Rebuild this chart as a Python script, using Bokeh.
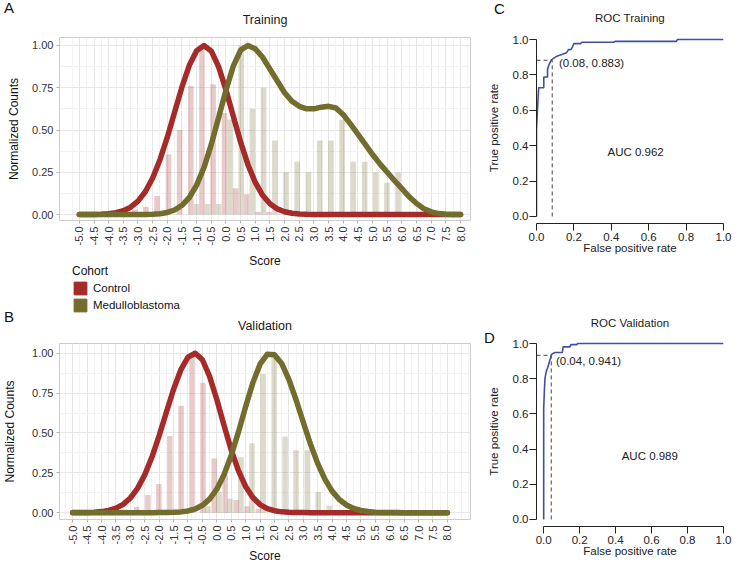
import math
from bokeh.plotting import figure
from bokeh.models import Range1d, FixedTicker, Legend, LegendItem, Div
from bokeh.layouts import row, column
from bokeh.embed import file_html
from bokeh.resources import INLINE
from bokeh.core.properties import value

FONT = "Liberation Sans"
RED = "#A52A2A"
OLIVE = "#726C2D"
BLUE = "#3F4FA6"
NAN = float("nan")

# ---------------- data ----------------
COHORTS = ["Control", "Medulloblastoma"]
PANEL_TAGS = ["A", "B", "C", "D"]
SCORE_TICKS = [-5.0, -4.5, -4.0, -3.5, -3.0, -2.5, -2.0, -1.5, -1.0, -0.5, 0.0, 0.5, 1.0, 1.5,
               2.0, 2.5, 3.0, 3.5, 4.0, 4.5, 5.0, 5.5, 6.0, 6.5, 7.0, 7.5, 8.0]
SCORE_TICK_LABELS = ["-5.0", "-4.5", "-4.0", "-3.5", "-3.0", "-2.5", "-2.0", "-1.5", "-1.0", "-0.5",
                     "0.0", "0.5", "1.0", "1.5", "2.0", "2.5", "3.0", "3.5", "4.0", "4.5", "5.0",
                     "5.5", "6.0", "6.5", "7.0", "7.5", "8.0"]
COUNT_TICKS = [0.0, 0.25, 0.5, 0.75, 1.0]
COUNT_TICK_LABELS = ["0.00", "0.25", "0.50", "0.75", "1.00"]

# histogram bars (dodged), normalized counts
TRAIN_CTRL_BAR_X = [-3.11, -2.73, -2.35, -1.96, -1.58, -1.20, -0.82, -0.44, -0.05, 0.33, 0.71, 1.09, 1.47]
TRAIN_CTRL_BAR_H = [0.03, 0.045, 0.11, 0.355, 0.50, 0.76, 1.00, 0.77, 0.60, 0.155, 0.12, 0.015, 0.015]
TRAIN_MB_BAR_X = [-1.01, -0.63, -0.25, 0.14, 0.52, 0.90, 1.28, 1.67, 2.05, 2.43, 2.81, 3.20, 3.58,
                  3.96, 4.34, 4.73, 5.11, 5.49, 5.87]
TRAIN_MB_BAR_H = [0.0625, 0.0625, 0.0625, 0.5625, 1.0, 0.625, 0.75, 0.4375, 0.25, 0.3125, 0.25, 0.4375,
                  0.4375, 0.5625, 0.3125, 0.3125, 0.25, 0.1875, 0.25]
VAL_CTRL_BAR_X = [-3.16, -2.78, -2.39, -2.01, -1.63, -1.24, -0.86, -0.48, -0.09, 0.29, 0.67, 1.05, 1.44]
VAL_CTRL_BAR_H = [0.02, 0.035, 0.11, 0.18, 0.48, 0.67, 1.0, 0.815, 0.34, 0.235, 0.08, 0.04, 0.025]
VAL_MB_BAR_X = [-0.31, 0.08, 0.46, 0.84, 1.22, 1.61, 1.99, 2.37, 2.75, 3.14, 3.52, 3.90]
VAL_MB_BAR_H = [0.04, 0.13, 0.087, 0.348, 0.435, 0.87, 1.0, 0.478, 0.391, 0.391, 0.13, 0.043]

# fitted density curves (normalized), sampled along the score axis
CURVE_X = [-5.0, -4.75, -4.5, -4.25, -4.0, -3.75, -3.5, -3.25, -3.0, -2.75, -2.5, -2.25, -2.0, -1.75,
           -1.5, -1.25, -1.0, -0.75, -0.5, -0.25, 0.0, 0.25, 0.5, 0.75, 1.0, 1.25, 1.5, 1.75, 2.0,
           2.25, 2.5, 2.75, 3.0, 3.25, 3.5, 3.75, 4.0, 4.25, 4.5, 4.75, 5.0, 5.25, 5.5, 5.75, 6.0,
           6.25, 6.5, 6.75, 7.0, 7.25, 7.5, 7.75, 8.0]
TRAIN_CTRL_CURVE = [0.0001, 0.0003, 0.0009, 0.0022, 0.0051, 0.0111, 0.0228, 0.0439, 0.0796, 0.1353,
                    0.2163, 0.3247, 0.4578, 0.6065, 0.7548, 0.8825, 0.9692, 1.0, 0.9667, 0.873, 0.737,
                    0.581, 0.428, 0.295, 0.190, 0.114, 0.064, 0.0337, 0.0165, 0.0076, 0.0033, 0.0013,
                    0.0005, 0.0002, 0, 0, 0, 0, 0, 0, 0, 0, 0, 0, 0, 0, 0, 0, 0, 0, 0, 0, 0]
TRAIN_MB_CURVE = [0, 0, 0, 0, 0, 0, 0, 0, 0, 0.001, 0.0022, 0.0054, 0.0126, 0.027, 0.055, 0.101, 0.174,
                  0.278, 0.415, 0.574, 0.736, 0.878, 0.972, 1.0, 0.98, 0.93, 0.86, 0.79, 0.72, 0.67,
                  0.64, 0.625, 0.625, 0.635, 0.64, 0.63, 0.59, 0.535, 0.475, 0.415, 0.355, 0.30, 0.25,
                  0.20, 0.153, 0.105, 0.065, 0.035, 0.016, 0.006, 0.002, 0.0005, 0.0]
VAL_CTRL_CURVE = [0.0002, 0.0005, 0.0012, 0.003, 0.0066, 0.014, 0.028, 0.052, 0.092, 0.152, 0.237,
                  0.349, 0.483, 0.630, 0.774, 0.895, 0.975, 1.0, 0.959, 0.855, 0.710, 0.548, 0.393,
                  0.263, 0.164, 0.095, 0.051, 0.025, 0.012, 0.005, 0.002, 0.0008, 0.0003,
                  0, 0, 0, 0, 0, 0, 0, 0, 0, 0, 0, 0, 0, 0, 0, 0, 0, 0, 0, 0]
VAL_MB_CURVE = [0, 0, 0, 0, 0, 0, 0, 0, 0, 0, 0, 0.0001, 0.0003, 0.0007, 0.0019, 0.0047, 0.0107, 0.023,
                0.046, 0.085, 0.147, 0.238, 0.359, 0.505, 0.664, 0.814, 0.931, 0.993, 0.991, 0.936,
                0.836, 0.708, 0.567, 0.430, 0.309, 0.210, 0.135, 0.082, 0.048, 0.026, 0.0135, 0.0066,
                0.0031, 0.0014, 0.0006, 0.0002, 0, 0, 0, 0, 0, 0, 0]

# ROC curves
ROC_TICKS = [0.0, 0.2, 0.4, 0.6, 0.8, 1.0]
ROC_TICK_LABELS = ["0.0", "0.2", "0.4", "0.6", "0.8", "1.0"]
ROC_TRAIN_FPR = [0, 0, 0.005, 0.01, 0.012, 0.039, 0.039, 0.059, 0.059, 0.067, 0.081, 0.109, 0.135,
                 0.16, 0.171, 0.185, 0.194, 0.2, 0.235, 0.244, 0.412, 0.42, 0.748, 0.753, 1.0]
ROC_TRAIN_TPR = [0, 0.49, 0.6, 0.70, 0.728, 0.728, 0.788, 0.788, 0.831, 0.859, 0.887, 0.906, 0.915,
                 0.925, 0.943, 0.944, 0.962, 0.977, 0.977, 0.985, 0.985, 0.99, 0.99, 1.0, 1.0]
ROC_TRAIN_CUT = (0.084, 0.883)
ROC_TRAIN_CUT_LABEL = "(0.08, 0.883)"
ROC_TRAIN_AUC_LABEL = "AUC 0.962"
ROC_VAL_FPR = [0, 0, 0.004, 0.007, 0.014, 0.024, 0.029, 0.037, 0.045, 0.062, 0.104, 0.108, 0.146,
               0.151, 0.185, 0.188, 1.0]
ROC_VAL_TPR = [0, 0.634, 0.737, 0.80, 0.84, 0.868, 0.887, 0.915, 0.94, 0.949, 0.949, 0.981, 0.981,
               0.994, 0.994, 1.0, 1.0]
ROC_VAL_CUT = (0.042, 0.933)
ROC_VAL_CUT_LABEL = "(0.04, 0.941)"
ROC_VAL_AUC_LABEL = "AUC 0.989"


def tag_div(text, left, top):
    return Div(text=text, width=16, height=18,
               styles={"position": "absolute", "left": f"{left}px", "top": f"{top}px",
                       "font-family": FONT, "font-size": "15px", "line-height": "18px",
                       "color": "#111111"})


def hist_panel(title, ctrl_x, ctrl_h, mb_x, mb_h, ctrl_curve, mb_curve, xr, yr,
               height, bt, bb, title_standoff, ylab_standoff, xlab_standoff):
    p = figure(width=476, height=height, x_range=Range1d(*xr), y_range=Range1d(*yr),
               output_backend="svg", toolbar_location=None,
               min_border_left=56, min_border_right=6, min_border_top=bt, min_border_bottom=bb,
               x_axis_label="Score", y_axis_label="Normalized Counts")
    p.title.text = title
    p.title.align = "center"
    p.title.text_font = FONT
    p.title.text_font_size = "12.5px"
    p.title.text_font_style = "normal"
    p.title.text_color = "#1a1a1a"
    p.title.standoff = title_standoff
    p.outline_line_color = "#CCCCCC"
    p.background_fill_color = "white"

    xt = FixedTicker(ticks=SCORE_TICKS,
                     minor_ticks=[t + 0.25 for t in SCORE_TICKS[:-1]] + [-5.25, 8.25, 8.5, 8.75])
    yt = FixedTicker(ticks=COUNT_TICKS, minor_ticks=[t + 0.125 for t in COUNT_TICKS[:-1]])
    p.xaxis.ticker = xt
    p.yaxis.ticker = yt
    p.xgrid.ticker = xt
    p.ygrid.ticker = yt
    p.xaxis.major_label_overrides = {t: s for t, s in zip(SCORE_TICKS, SCORE_TICK_LABELS)}
    p.yaxis.major_label_overrides = {t: s for t, s in zip(COUNT_TICKS, COUNT_TICK_LABELS)}
    p.xaxis.major_label_orientation = math.pi / 2
    for g in (p.xgrid[0], p.ygrid[0]):
        g.grid_line_color = "#E6E6E6"
        g.minor_grid_line_color = "#F2F2F2"
    for ax in (p.xaxis[0], p.yaxis[0]):
        ax.axis_line_color = None
        ax.major_tick_line_color = "#B3B3B3"
        ax.major_tick_out = 3
        ax.major_tick_in = 0
        ax.minor_tick_line_color = None
        ax.major_label_text_font = FONT
        ax.major_label_text_font_size = "11px"
        ax.major_label_text_color = "#333333"
        ax.major_label_standoff = 2
        ax.axis_label_text_font = FONT
        ax.axis_label_text_font_size = "12px"
        ax.axis_label_text_font_style = "normal"
        ax.axis_label_text_color = "#111111"
    p.xaxis.axis_label_standoff = xlab_standoff
    p.yaxis.axis_label_standoff = ylab_standoff

    p.vbar(x=ctrl_x, top=ctrl_h, width=0.19, bottom=0, fill_color=RED, fill_alpha=0.25, line_color=None)
    p.vbar(x=mb_x, top=mb_h, width=0.19, bottom=0, fill_color=OLIVE, fill_alpha=0.25, line_color=None)
    p.line(CURVE_X, ctrl_curve, line_color=RED, line_width=5.5, line_join="round", line_cap="round")
    p.line(CURVE_X, mb_curve, line_color=OLIVE, line_width=5.5, line_join="round", line_cap="round")
    return p


def roc_panel(title, fpr, tpr, cut, cut_label, cut_label_x, cut_label_y, auc_label, auc_x, auc_y,
              xr0, height, bt, bb, title_standoff):
    p = figure(width=257, height=height, x_range=Range1d(xr0, 1.0), y_range=Range1d(-0.04, 1.04),
               output_backend="svg", toolbar_location=None,
               min_border_left=60, min_border_right=10, min_border_top=bt, min_border_bottom=bb,
               x_axis_label="False positive rate", y_axis_label="True positive rate")
    p.title.text = title
    p.title.align = "center"
    p.title.text_font = FONT
    p.title.text_font_size = "11.5px"
    p.title.text_font_style = "normal"
    p.title.text_color = "#1a1a1a"
    p.title.standoff = title_standoff
    p.outline_line_color = None
    p.grid.visible = False
    for ax in (p.xaxis[0], p.yaxis[0]):
        ax.ticker = FixedTicker(ticks=ROC_TICKS)
        ax.major_label_overrides = {t: s for t, s in zip(ROC_TICKS, ROC_TICK_LABELS)}
        ax.bounds = (0, 1)
        ax.axis_line_color = "#222222"
        ax.major_tick_line_color = "#222222"
        ax.major_tick_out = 7
        ax.major_tick_in = 0
        ax.minor_tick_line_color = None
        ax.major_label_text_font = FONT
        ax.major_label_text_font_size = "11.5px"
        ax.major_label_text_color = "#222222"
        ax.axis_label_text_font = FONT
        ax.axis_label_text_font_size = "11.5px"
        ax.axis_label_text_font_style = "normal"
        ax.axis_label_text_color = "#222222"
    p.yaxis.major_label_standoff = 1
    p.yaxis.axis_label_standoff = 10
    p.xaxis.major_label_standoff = 2
    p.xaxis.axis_label_standoff = -2

    p.line([xr0, cut[0]], [cut[1], cut[1]], line_color="#444444", line_width=1, line_dash="4 3")
    p.line([cut[0], cut[0]], [0, cut[1]], line_color="#444444", line_width=1, line_dash="4 3")
    p.line(fpr, tpr, line_color=BLUE, line_width=1.6)
    p.text(x=[cut_label_x], y=[cut_label_y], text=[cut_label], text_font=value(FONT),
           text_font_size="11.5px", text_align="left", text_baseline="middle", text_color="#222222")
    p.text(x=[auc_x], y=[auc_y], text=[auc_label], text_font=value(FONT),
           text_font_size="11.5px", text_align="center", text_baseline="middle", text_color="#222222")
    return p


# ---- Training histogram ----
p_train = hist_panel("Training", TRAIN_CTRL_BAR_X, TRAIN_CTRL_BAR_H, TRAIN_MB_BAR_X, TRAIN_MB_BAR_H,
                     TRAIN_CTRL_CURVE, TRAIN_MB_CURVE, xr=(-5.677, 8.339), yr=(-0.035, 1.047),
                     height=306, bt=36, bb=86, title_standoff=21, ylab_standoff=8, xlab_standoff=6)

# ---- Cohort legend (small legend-only figure laid over the gap under panel A) ----
leg_fig = figure(width=120, height=54, x_range=Range1d(0, 1), y_range=Range1d(0, 1),
                 output_backend="svg", toolbar_location=None, x_axis_location=None,
                 y_axis_location=None, min_border=0, outline_line_color=None,
                 background_fill_alpha=0, border_fill_alpha=0,
                 styles={"position": "absolute", "left": "72px", "top": "264px"})
leg_fig.grid.visible = False
k1 = leg_fig.quad(left=[NAN], right=[NAN], top=[NAN], bottom=[NAN], fill_color=RED, line_color=RED)
k2 = leg_fig.quad(left=[NAN], right=[NAN], top=[NAN], bottom=[NAN], fill_color=OLIVE, line_color=OLIVE)
legend = Legend(items=[LegendItem(label=COHORTS[0], renderers=[k1]),
                       LegendItem(label=COHORTS[1], renderers=[k2])],
                location="top_left", orientation="vertical", title="Cohort",
                title_text_font=FONT, title_text_font_size="12px", title_text_font_style="normal",
                title_text_color="#111111", title_standoff=2,
                label_text_font=FONT, label_text_font_size="11.5px", label_text_color="#111111",
                glyph_width=16, glyph_height=16, label_height=16, label_standoff=5, spacing=1,
                padding=0, margin=0, border_line_color=None, background_fill_alpha=0)
leg_fig.add_layout(legend)

# ---- Validation histogram ----
p_val = hist_panel("Validation", VAL_CTRL_BAR_X, VAL_CTRL_BAR_H, VAL_MB_BAR_X, VAL_MB_BAR_H,
                   VAL_CTRL_CURVE, VAL_MB_CURVE, xr=(-5.458, 8.803), yr=(-0.043, 1.061),
                   height=260, bt=36, bb=43, title_standoff=21, ylab_standoff=12, xlab_standoff=2)

# ---- ROC panels ----
r_train = roc_panel("ROC Training", ROC_TRAIN_FPR, ROC_TRAIN_TPR, ROC_TRAIN_CUT, ROC_TRAIN_CUT_LABEL,
                    0.12, 0.868, ROC_TRAIN_AUC_LABEL, 0.53, 0.362, 0.0,
                    height=290, bt=32, bb=67, title_standoff=17)
r_val = roc_panel("ROC Validation", ROC_VAL_FPR, ROC_VAL_TPR, ROC_VAL_CUT, ROC_VAL_CUT_LABEL,
                  0.068, 0.90, ROC_VAL_AUC_LABEL, 0.59, 0.36, -0.04,
                  height=276, bt=46, bb=40, title_standoff=16)

tags = [tag_div(PANEL_TAGS[0], -1, -6), tag_div(PANEL_TAGS[1], -1, 303),
        tag_div(PANEL_TAGS[2], 489, -5), tag_div(PANEL_TAGS[3], 479, 324)]

layout = row(column(p_train, p_val), column(r_train, r_val), leg_fig, *tags)
open("out.html", "w").write(file_html(layout, INLINE))
